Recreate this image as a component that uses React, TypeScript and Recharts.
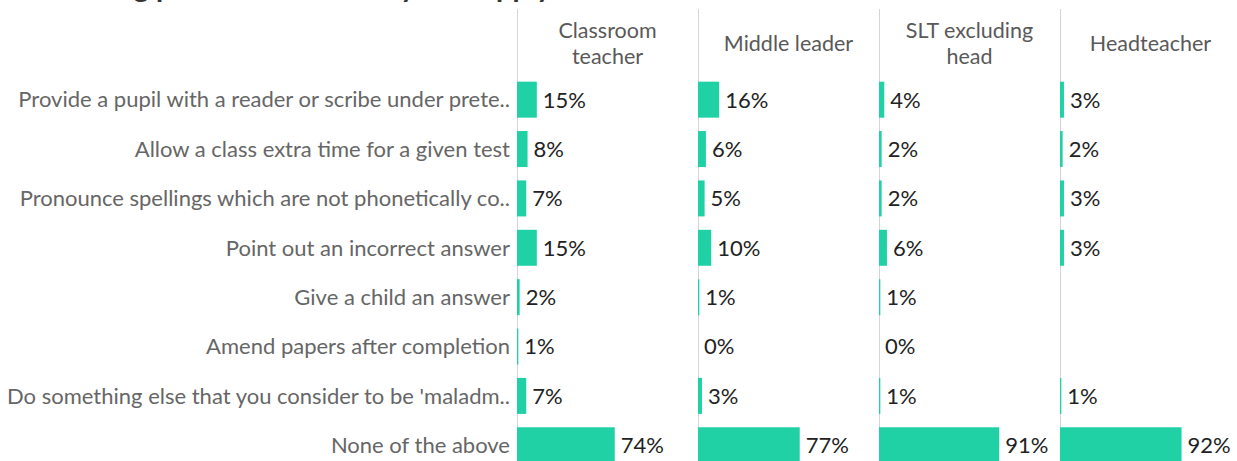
import { ComposedChart, Bar, Scatter, XAxis, YAxis } from "recharts";

const categories = [
  "Provide a pupil with a reader or scribe under prete..",
  "Allow a class extra time for a given test",
  "Pronounce spellings which are not phonetically co..",
  "Point out an incorrect answer",
  "Give a child an answer",
  "Amend papers after completion",
  "Do something else that you consider to be 'maladm..",
  "None of the above",
];

const roles = [
  ["Classroom", "teacher"],
  ["Middle leader"],
  ["SLT excluding", "head"],
  ["Headteacher"],
];

const classroomTeacher = [15, 8, 7, 15, 2, 1, 7, 74];
const middleLeader = [16, 6, 5, 10, 1, 0, 3, 77];
const sltExcludingHead = [4, 2, 2, 6, 1, 0, 1, 91];
const headteacher = [3, 2, 3, 3, null, null, 1, 92];

const series = [classroomTeacher, middleLeader, sltExcludingHead, headteacher];

const TEAL = "#20d1a6";
const FONT = "Lato, 'Open Sans', sans-serif";
const LABEL_W = 517;
const PANEL_W = 181;
const HEADER_H = 75;
const CHART_H = 395;

// value text drawn at the end of each bar (also for 0%)
const ValueLabel = (props: any) => {
  const { cx, cy, payload } = props;
  if (payload.value === null || payload.value === undefined) return null;
  return (
    <text
      x={cx + 6}
      y={cy}
      dy="0.36em"
      fill="#222"
      fontSize={22}
      fontFamily={FONT}
    >
      {payload.value}%
    </text>
  );
};

function Panel({ idx }: { idx: number }) {
  const data = categories.map((name, i) => ({ name, value: series[idx][i] }));
  const first = idx === 0;
  const width = first ? LABEL_W + PANEL_W : PANEL_W;
  return (
    <div style={{ position: "relative", width, flex: "none" }}>
      <div
        style={{
          position: "absolute",
          left: first ? LABEL_W : 0,
          top: 9,
          bottom: 0,
          borderLeft: "1px solid #d4d4d4",
        }}
      />
      <div
        style={{
          height: HEADER_H,
          marginLeft: first ? LABEL_W : 0,
          width: PANEL_W,
          display: "flex",
          flexDirection: "column",
          justifyContent: "center",
          alignItems: "center",
          color: "#595959",
          fontSize: 21.5,
          lineHeight: "26px",
          paddingTop: 10,
          boxSizing: "border-box",
        }}
      >
        {roles[idx].map((t) => (
          <div key={t}>{t}</div>
        ))}
      </div>
      <ComposedChart
        width={width}
        height={CHART_H}
        data={data}
        layout="vertical"
        margin={{ top: 0, right: 0, bottom: 0, left: 0 }}
        barCategoryGap="13.5%"
      >
        <XAxis type="number" dataKey="value" domain={[0, 137]} hide />
        <YAxis
          type="category"
          dataKey="name"
          width={first ? LABEL_W : 0}
          hide={!first}
          axisLine={false}
          tickLine={false}
          tickSize={0}
          tickMargin={7}
          interval={0}
          tick={{ fill: "#666", fontSize: 22, fontFamily: FONT }}
        />
        <Bar dataKey="value" fill={TEAL} isAnimationActive={false} />
        <Scatter
          dataKey="value"
          shape={ValueLabel}
          isAnimationActive={false}
        />
      </ComposedChart>
    </div>
  );
}

export default function App() {
  return (
    <div
      style={{
        position: "absolute",
        left: 0,
        top: 0,
        width: 1237,
        height: 461,
        overflow: "hidden",
        background: "#fff",
        fontFamily: FONT,
      }}
    >
      <div
        style={{
          position: "absolute",
          left: 4,
          top: -32,
          fontSize: 29,
          fontWeight: 700,
          lineHeight: "36px",
          color: "#333",
          whiteSpace: "nowrap",
        }}
      >
        Witnessing practices: select any that apply
      </div>
      <div style={{ display: "flex" }}>
        {roles.map((_, i) => (
          <Panel key={i} idx={i} />
        ))}
      </div>
    </div>
  );
}
